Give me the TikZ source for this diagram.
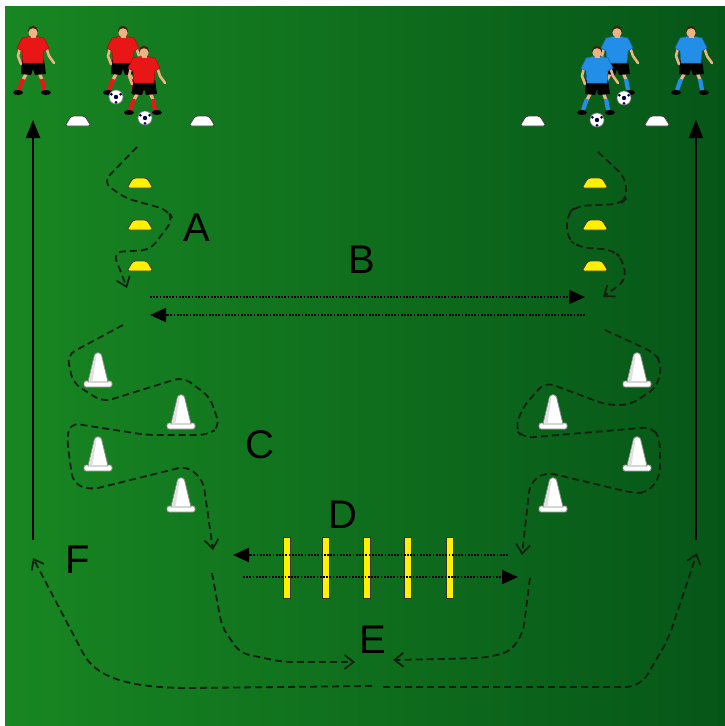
\documentclass[tikz,border=0pt]{standalone}
\usepackage{fontspec}
\setmainfont{Liberation Sans}
\usetikzlibrary{arrows.meta}

\definecolor{pitchlight}{RGB}{24,134,34}
\definecolor{pitchdark}{RGB}{6,86,24}
\definecolor{kitred}{RGB}{232,22,22}
\definecolor{kitblue}{RGB}{34,142,232}
\definecolor{skin}{RGB}{236,180,130}
\definecolor{hair}{RGB}{60,35,20}
\definecolor{discyellow}{RGB}{255,240,0}
\definecolor{runline}{RGB}{14,34,14}

\tikzset{
  run/.style={draw=runline, line width=1.8pt, dash pattern=on 7pt off 4pt,
    rounded corners=9pt, -{Straight Barb[length=9pt,width=14pt]}},
  pass/.style={line width=2pt, dash pattern=on 1.8pt off 1.4pt,
    -{Triangle[length=16pt,width=14pt]}},
  lbl/.style={font=\fontsize{40}{40}\selectfont},
  pics/disc/.style={code={
    \filldraw[fill=#1, draw=black!75, line width=0.9pt, rounded corners=2.5pt]
      (-13,5) -- (-7,-5) -- (7,-5) -- (13,5) -- cycle;}},
  pics/cone/.style={code={
    \filldraw[fill=white, draw=black!45, line width=0.8pt, rounded corners=2pt]
      (-14,-1) rectangle (14,5);
    \filldraw[fill=white, draw=black!45, line width=0.8pt]
      (-10,0) -- (-3.5,-27) .. controls (-2,-30) and (2,-30) .. (3.5,-27) -- (10,0) -- cycle;
    \fill[black!12] (-9,-1) -- (-3,-26) -- (-1.5,-26) -- (-5.5,-1) -- cycle;}},
  pics/ball/.style={code={
    \filldraw[fill=white, draw=black!50, line width=0.6pt] (0,0) circle[radius=7pt];
    \fill[black!70!blue] (0,0) circle[radius=2.2pt];
    \foreach \a in {30,150,270}
      \fill[black!70!blue] (\a:5.4pt) circle[radius=1.5pt];}},
  pics/player/.style={code={
    % legs and boots
    \draw[skin, line width=3.2pt, line cap=round] (-6,40) -- (-10,48);
    \draw[skin, line width=3.2pt, line cap=round] (6,40) -- (9,48);
    \draw[#1, line width=4.2pt] (-10,47) -- (-14,58);
    \draw[#1, line width=4.2pt] (9,47) -- (11,58);
    \fill[black] (-15,60.5) ellipse (5pt and 2.5pt);
    \fill[black] (13,60.5) ellipse (5pt and 2.5pt);
    \fill[black] (-11,28) -- (11,28) -- (13,42) -- (2,43) -- (0,37) -- (-2,43) -- (-12,42) -- cycle;
    % arms
    \draw[skin, line width=2.6pt, line cap=round, line join=round] (-12,12) -- (-15,24) -- (-12,32);
    \draw[skin, line width=2.6pt, line cap=round, line join=round] (12,12) -- (16,24) -- (21,31);
    % shirt
    \filldraw[fill=#1, draw=#1!70!black, line width=0.5pt]
      (-11,6) -- (-4,4.5) -- (4,4.5) -- (11,6) -- (16,16) -- (11,19) -- (10,31)
      -- (-10,31) -- (-11,19) -- (-16,16) -- cycle;
    % head
    \fill[skin] (-2.5,2) rectangle (2.5,6);
    \fill[hair] (0,-1.2) circle[radius=5pt];
    \fill[skin] (0,0.8) circle[radius=4.6pt];}},
}

\begin{document}
\begin{tikzpicture}[x=1pt,y=-1pt]
  \useasboundingbox (0,0) rectangle (725,726);
  \fill[white] (0,0) rectangle (725,726);
  \shade[left color=pitchlight, right color=pitchdark] (5,6) rectangle (725,726);

  % start discs and players
  \foreach \x in {78,202,533,657}
    \pic at (\x,121) {disc=white};
  \pic at (33,32) {player=kitred};
  \pic at (123,32) {player=kitred};
  \pic at (144,52) {player=kitred};
  \pic at (617,32) {player=kitblue};
  \pic at (597,52) {player=kitblue};
  \pic at (691,32) {player=kitblue};
  \pic at (116,97) {ball};
  \pic at (145,118) {ball};
  \pic at (624,98) {ball};
  \pic at (597,120) {ball};

  % return lines
  \draw[line width=2.2pt, -{Triangle[length=18pt,width=14pt]}] (33,540) -- (33,120);
  \draw[line width=2.2pt, -{Triangle[length=18pt,width=14pt]}] (696,540) -- (696,120);

  % slalom markers and cones
  \foreach \y in {183,225,266} {
    \pic at (140,\y) {disc=discyellow};
    \pic at (595,\y) {disc=discyellow};
  }
  \foreach \y in {382,466} {
    \pic at (98,\y) {cone};
    \pic at (637,\y) {cone};
  }
  \foreach \y in {424,507} {
    \pic at (181,\y) {cone};
    \pic at (553,\y) {cone};
  }

  % ladder
  \foreach \x in {287,326,367,408,450}
    \filldraw[fill=discyellow, draw=black!80, line width=0.9pt] (\x-3.5,537) rectangle (\x+3.5,598);

  % passes
  \draw[pass] (150,297) -- (585,297);
  \draw[pass] (585,315) -- (150,315);
  \draw[pass] (508,555) -- (233,555);
  \draw[pass] (243,577) -- (518,577);

  % runs
  \draw[run] (137,147) -- (103,182) -- (125,198) -- (168,210) -- (173,220) -- (150,250)
    -- (113,252) -- (127,288);
  \draw[run] (598,152) -- (625,177) -- (627,198) -- (620,204) -- (577,206) -- (567,214)
    -- (567,238) -- (578,247) -- (613,250) -- (623,260) -- (626,280) -- (603,297);
  \draw[run] (123,325) -- (67,355) -- (73,383) -- (103,402) -- (183,377) -- (210,397)
    -- (220,427) -- (207,435) -- (147,435) -- (70,423) -- (67,440) -- (73,483)
    -- (90,490) -- (187,466) -- (203,480) -- (213,550);
  \draw[run] (605,330) -- (653,352) -- (662,363) -- (657,387) -- (630,405) -- (607,405)
    -- (545,382) -- (523,407) -- (515,428) -- (523,438) -- (653,427) -- (660,440)
    -- (660,477) -- (647,493) -- (633,493) -- (545,472) -- (530,483) -- (522,555);
  \draw[run] (212,573) -- (222,627) -- (240,653) -- (283,662) -- (355,662);
  \draw[run] (530,578) -- (523,633) -- (510,652) -- (483,658) -- (393,660);
  \draw[run, rounded corners=0pt] (372,686) -- (190,688)
    .. controls (125,688) and (95,676) .. (83,653) -- (33,558);
  \draw[run, rounded corners=14pt] (383,687) -- (640,687) -- (668,640) -- (697,553);

  % stations
  \node[lbl] (labA) at (197,228) {A};
  \node[lbl] (labB) at (362,260) {B};
  \node[lbl] (labC) at (260,445) {C};
  \node[lbl] (labD) at (343,515) {D};
  \node[lbl] (labE) at (373,640) {E};
  \node[lbl] (labF) at (78,560) {F};
\end{tikzpicture}
\end{document}
